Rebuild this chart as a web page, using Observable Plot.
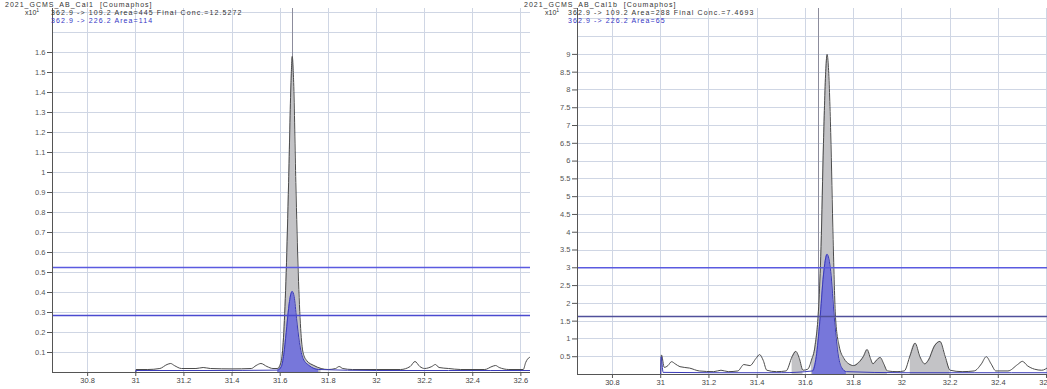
<!DOCTYPE html>
<html><head><meta charset="utf-8">
<script src="https://cdn.jsdelivr.net/npm/d3@7"></script>
<script src="https://cdn.jsdelivr.net/npm/@observablehq/plot@0.6"></script>
<style>
body{margin:0;background:#fff;font-family:"Liberation Sans",Arial,sans-serif;}
#wrap{position:relative;width:1047px;height:389px;overflow:hidden;background:#fff;}
.panel{position:absolute;top:0;}
.t{position:absolute;font-size:7px;line-height:8px;white-space:pre;color:#333;}
.ti{letter-spacing:1px;}
.lg{letter-spacing:1.1px;}
.q{color:#3434c4;}
sup{font-size:5px;vertical-align:top;line-height:5px;position:relative;top:-1px;}
</style></head>
<body><div id="wrap"></div>
<script>
// ---------- shared axis ticks ----------
const xTicks = [30.8, 31, 31.2, 31.4, 31.6, 31.8, 32, 32.2, 32.4, 32.6];
const leftYTicks = [0.1,0.2,0.3,0.4,0.5,0.6,0.7,0.8,0.9,1,1.1,1.2,1.3,1.4,1.5,1.6];
const leftYGrid = [0.1,0.2,0.3,0.4,0.5,0.6,0.7,0.8,0.9,1,1.1,1.2,1.3,1.4,1.5,1.6,1.7,1.8];
const rightYTicks = [0.5,1,1.5,2,2.5,3,3.5,4,4.5,5,5.5,6,6.5,7,7.5,8,8.5,9];
const rightYGrid = [0.5,1,1.5,2,2.5,3,3.5,4,4.5,5,5.5,6,6.5,7,7.5,8,8.5,9,9.5,10];

// ---------- texts ----------
const leftTitle = "2021_GCMS_AB_Cal1  [Coumaphos]";
const leftQuantLabel = "362.9 -> 109.2 Area=445 Final Conc.=12.5272";
const leftQualLabel = "362.9 -> 226.2 Area=114";
const rightTitle = "2021_GCMS_AB_Cal1b  [Coumaphos]";
const rightQuantLabel = "362.9 -> 109.2 Area=288 Final Conc.=7.4693";
const rightQualLabel = "362.9 -> 226.2 Area=65";
const scaleLabel = "x10";
const scaleExp = "1";

// ---------- left panel: quantifier trace (362.9 -> 109.2) ----------
const leftQuantTime = [31.0,31.001,31.05,31.10,31.13,31.145,31.16,31.19,31.25,31.28,31.31,31.40,31.48,31.50,31.52,31.545,31.57,31.59,
  31.605,31.615,31.625,31.635,31.645,31.65,31.656,31.665,31.675,31.685,31.695,31.71,31.74,31.77,31.80,31.83,31.845,31.86,31.90,32.0,
  32.10,32.14,32.16,32.18,32.20,32.23,32.245,32.26,32.30,32.35,32.45,32.48,32.495,32.51,32.55,32.61,32.62,32.635,32.65];
const leftQuantValue = [0.0,0.015,0.015,0.02,0.04,0.045,0.035,0.02,0.02,0.025,0.02,0.018,0.02,0.035,0.045,0.03,0.02,0.02,
  0.06,0.2,0.5,0.95,1.45,1.58,1.45,0.95,0.5,0.22,0.1,0.06,0.035,0.02,0.015,0.02,0.03,0.02,0.015,0.015,
  0.015,0.03,0.055,0.03,0.02,0.03,0.04,0.025,0.02,0.015,0.015,0.03,0.035,0.025,0.015,0.015,0.05,0.075,0.08];
// ---------- left panel: qualifier trace (362.9 -> 226.2) ----------
const leftQualTime = [31.0,31.001,31.3,31.59,31.605,31.615,31.625,31.635,31.645,31.65,31.658,31.668,31.68,31.695,31.72,31.76,32.0,32.3,32.65];
const leftQualValue = [0.0,0.01,0.01,0.012,0.03,0.09,0.2,0.32,0.395,0.405,0.38,0.27,0.15,0.07,0.035,0.015,0.01,0.01,0.01];
const leftQuantFill = [[31.59, 31.78]];
const leftQualFill = [[31.59, 31.77]];
const leftUpperLimit = 0.525;
const leftLowerLimit = 0.285;
const leftRT = 31.65;

// ---------- right panel: quantifier trace ----------
const rightQuantTime = [31.0,31.003,31.015,31.03,31.045,31.06,31.08,31.12,31.16,31.22,31.25,31.28,31.32,31.345,31.37,31.395,31.41,31.425,31.44,31.48,31.52,
  31.545,31.56,31.575,31.59,31.61,31.625,31.64,31.655,31.665,31.675,31.685,31.69,31.695,31.705,31.715,31.725,31.74,31.76,31.78,31.80,31.82,31.84,
  31.856,31.87,31.88,31.895,31.91,31.925,31.94,31.98,32.01,32.035,32.055,32.075,32.095,32.11,32.135,32.158,32.18,32.20,32.25,32.30,32.33,32.35,
  32.37,32.39,32.44,32.48,32.50,32.52,32.55,32.58,32.61];
const rightQuantValue = [0.0,0.55,0.2,0.25,0.36,0.3,0.22,0.18,0.1,0.08,0.12,0.08,0.1,0.28,0.25,0.45,0.56,0.4,0.12,0.08,0.1,
  0.5,0.65,0.45,0.12,0.15,0.4,0.8,1.9,3.6,6.5,8.6,9.0,8.7,6.8,3.8,1.6,0.8,0.45,0.3,0.25,0.33,0.5,
  0.7,0.45,0.3,0.4,0.48,0.3,0.1,0.08,0.1,0.55,0.88,0.5,0.3,0.4,0.8,0.93,0.5,0.12,0.08,0.1,0.3,0.5,
  0.3,0.1,0.1,0.28,0.37,0.25,0.15,0.12,0.22];
// ---------- right panel: qualifier trace ----------
const rightQualTime = [31.0,31.002,31.01,31.2,31.5,31.63,31.645,31.66,31.675,31.69,31.705,31.72,31.735,31.75,31.77,32.0,32.3,32.61];
const rightQualValue = [0.0,0.5,0.06,0.05,0.05,0.1,0.5,1.5,2.8,3.38,2.9,1.6,0.6,0.2,0.08,0.05,0.05,0.05];
const rightQuantFill = [[31.535, 31.595], [31.62, 31.945], [32.02, 32.2]];
const rightQualFill = [[31.625, 31.77]];
const rightUpperLimit = 3.0;
const rightLowerLimit = 1.63;
const rightRT = 31.655;

function rows(time, value, fills) {
  return time.map((t, i) => {
    const k = fills.findIndex(([a, b]) => t >= a && t <= b);
    return {t, v: value[i], seg: k};
  });
}

function panel(o) {
  const quant = rows(o.qt, o.qv, o.qFill);
  const qual = rows(o.lt, o.lv, o.lFill);
  const fmt = d => String(d);
  const crisp = {shapeRendering: "crispEdges"};
  return Plot.plot({
    width: o.width, height: 389,
    marginLeft: o.ml, marginRight: o.mr, marginTop: o.mt, marginBottom: o.mb,
    style: {fontFamily: '"Liberation Sans", Arial, sans-serif', fontSize: "7.5px", background: "#fff", overflow: "hidden"},
    x: {domain: o.xd, axis: null, label: null},
    y: {domain: o.yd, axis: null, label: null},
    marks: [
      Plot.gridY(o.ygrid, {stroke: "#cfd6e4", strokeOpacity: 1, ...crisp}),
      Plot.gridX(xTicks, {stroke: "#cfd6e4", strokeOpacity: 1, ...crisp}),
      Plot.ruleX([o.rt], {stroke: "#8c8c9c", strokeWidth: 1, ...crisp}),
      Plot.areaY(quant.filter(d => d.seg >= 0), {x: "t", y: "v", z: "seg", fill: "#c3c3c6", curve: "monotone-x", clip: true}),
      Plot.lineY(quant, {x: "t", y: "v", stroke: "#4a4a4a", strokeWidth: 1, curve: "monotone-x", clip: true}),
      Plot.areaY(qual.filter(d => d.seg >= 0), {x: "t", y: "v", z: "seg", fill: "#6f6fdc", fillOpacity: 0.9, curve: "monotone-x", clip: true}),
      Plot.lineY(qual, {x: "t", y: "v", stroke: "#3a3ab8", strokeWidth: 1, curve: "monotone-x", clip: true}),
      Plot.ruleY([o.upper], {stroke: o.upperColor, strokeWidth: 1.5}),
      Plot.ruleY([o.lower], {stroke: o.lowerColor, strokeWidth: 1.5}),
      Plot.ruleY([0], {stroke: "#555", ...crisp}),
      Plot.ruleX([o.xd[0]], {stroke: "#555", ...crisp}),
      Plot.axisX(xTicks, {label: null, tickSize: 4, tickPadding: 1, tickFormat: fmt, fill: "#444", stroke: "#555"}),
      Plot.axisY(o.yticks, {label: null, tickSize: 5, tickPadding: 2, tickFormat: fmt, fill: "#555", stroke: "#555"})
    ]
  });
}

const wrap = document.getElementById("wrap");

function place(el, left) {
  const d = document.createElement("div");
  d.className = "panel"; d.style.left = left + "px";
  d.appendChild(el); wrap.appendChild(d);
}
function text(str, left, top, cls) {
  const d = document.createElement("div");
  d.className = "t" + (cls ? " " + cls : "");
  d.style.left = left + "px"; d.style.top = top + "px";
  d.textContent = str; wrap.appendChild(d); return d;
}
function scaleText(left, top) {
  const d = text(scaleLabel, left, top);
  const s = document.createElement("sup"); s.textContent = scaleExp; d.appendChild(s);
}

place(panel({
  width: 530, ml: 52, mr: 0, mt: 8, mb: 17,
  xd: [30.654, 32.64], yd: [0, 1.82],
  ygrid: leftYGrid, yticks: leftYTicks,
  qt: leftQuantTime, qv: leftQuantValue, qFill: leftQuantFill,
  lt: leftQualTime, lv: leftQualValue, lFill: leftQualFill,
  upper: leftUpperLimit, lower: leftLowerLimit, upperColor: "#5a5ae0", lowerColor: "#4a4ad0", rt: leftRT
}), 0);

place(panel({
  width: 515, ml: 45, mr: 0, mt: 8, mb: 15,
  xd: [30.655, 32.604], yd: [0, 10.29],
  ygrid: rightYGrid, yticks: rightYTicks,
  qt: rightQuantTime, qv: rightQuantValue, qFill: rightQuantFill,
  lt: rightQualTime, lv: rightQualValue, lFill: rightQualFill,
  upper: rightUpperLimit, lower: rightLowerLimit, upperColor: "#5a5ae0", lowerColor: "#50509a", rt: rightRT
}), 532);

text(leftTitle, 5, 1, "ti");
scaleText(25, 9);
text(leftQuantLabel, 51, 9, "lg");
text(leftQualLabel, 51, 17, "q lg");

text(rightTitle, 524, 1, "ti");
scaleText(545, 9);
text(rightQuantLabel, 568, 9, "lg");
text(rightQualLabel, 568, 17, "q lg");
</script></body></html>
